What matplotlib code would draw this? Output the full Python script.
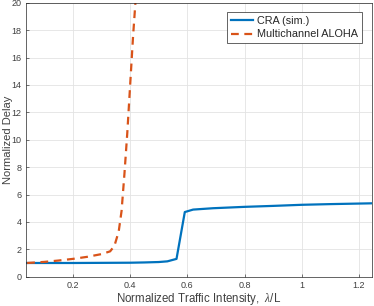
import matplotlib
matplotlib.use("Agg")
import matplotlib.pyplot as plt

cra_x = [0.04, 0.1, 0.2, 0.3, 0.4, 0.45, 0.5, 0.53, 0.562, 0.591, 0.62, 0.69, 0.8, 0.9, 1.0, 1.1, 1.25]
cra_y = [1.0, 1.0, 1.0, 1.01, 1.02, 1.04, 1.07, 1.12, 1.3, 4.72, 4.9, 5.0, 5.1, 5.17, 5.25, 5.3, 5.36]

aloha_x = [0.04, 0.1, 0.15, 0.2, 0.25, 0.3, 0.33, 0.345, 0.36, 0.37, 0.38, 0.39, 0.40, 0.41, 0.42, 0.425]
aloha_y = [1.0, 1.08, 1.18, 1.3, 1.45, 1.65, 1.85, 2.25, 3.3, 4.8, 7.5, 10.5, 14.0, 17.5, 20.5, 22.0]

xticks = [0.2, 0.4, 0.6, 0.8, 1, 1.2]
xtick_labels = ["0.2", "0.4", "0.6", "0.8", "1", "1.2"]
yticks = [0, 2, 4, 6, 8, 10, 12, 14, 16, 18, 20]

plt.rcParams['font.family'] = ['Liberation Sans', 'DejaVu Sans']
plt.rcParams['mathtext.fontset'] = 'custom'
plt.rcParams['mathtext.it'] = 'Liberation Serif:italic'
plt.rcParams['mathtext.rm'] = 'Liberation Sans'

fig = plt.figure(figsize=(3.74, 3.06), dpi=100)
ax = fig.add_axes([0.0695, 0.0958, 0.925, 0.895])

ax.plot(cra_x, cra_y, color='#0072BD', lw=1.6, label='CRA (sim.)')
ax.plot(aloha_x, aloha_y, color='#D95319', lw=1.6, ls=(0, (3.5, 2.5)), label='Multichannel ALOHA')

ax.set_xlim(0.036, 1.245)
ax.set_ylim(0, 20)
ax.set_xticks(xticks)
ax.set_xticklabels(xtick_labels)
ax.set_yticks(yticks)
ax.grid(True, color='#e3e3e3', lw=0.6)
ax.set_axisbelow(True)
ax.tick_params(direction='in', length=2.5, width=0.5, labelsize=6.5, colors='#404040', pad=3)
for s in ax.spines.values():
    s.set_color('#262626')
    s.set_linewidth(0.5)

ax.set_xlabel('Normalized Traffic Intensity,  $\\lambda$/L', fontsize=8.3, color='#404040', labelpad=1)
ax.set_ylabel('Normalized Delay', fontsize=8.0, color='#404040')
ax.yaxis.set_label_coords(-0.037, 0.5)

leg = ax.legend(loc='upper right', fontsize=7.8, fancybox=False, framealpha=1,
                edgecolor='#262626', borderpad=0.35, handlelength=2.0, handletextpad=0.4,
                labelspacing=0.35, borderaxespad=0, bbox_to_anchor=(0.971, 0.967))
leg.get_frame().set_linewidth(0.5)
for t in leg.get_texts():
    t.set_color('#262626')

fig.savefig('out.png', dpi=100)
